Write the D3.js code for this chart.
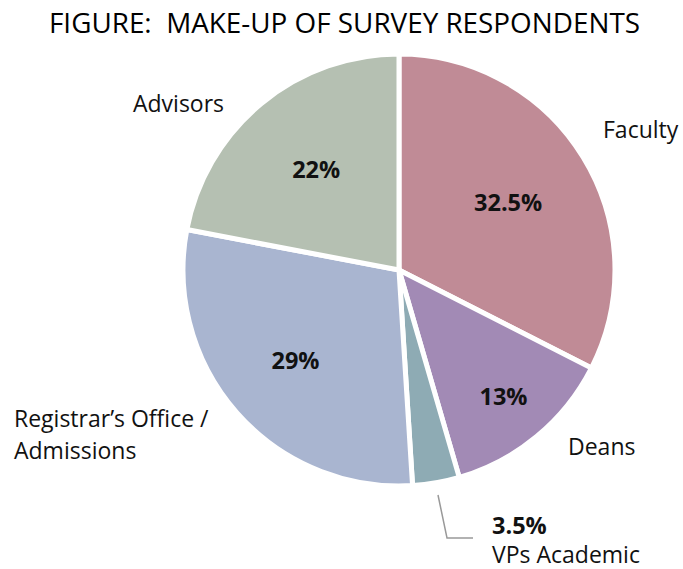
<!DOCTYPE html>
<html><head><meta charset="utf-8">
<script src="https://cdn.jsdelivr.net/npm/d3@7"></script>
<style>body{margin:0;background:#fff}svg{display:block}</style>
</head><body>
<script>
const categories = ["Faculty", "Deans", "VPs Academic", "Registrar’s Office / Admissions", "Advisors"];
const values = [32.5, 13, 3.5, 29, 22];
const valueLabels = ["32.5%", "13%", "3.5%", "29%", "22%"];
const colors = ["#c08b96", "#a28ab5", "#8eabb4", "#a9b5d0", "#b5c0b2"];
const title = "FIGURE:  MAKE-UP OF SURVEY RESPONDENTS";

const W = 683, H = 569;
const svg = d3.select("body").append("svg").attr("width", W).attr("height", H);

svg.append("text").attr("x", 49).attr("y", 33)
  .attr("font-family", "Open Sans").attr("font-size", 26.5).attr("fill", "#000")
  .attr("textLength", 591).attr("lengthAdjust", "spacingAndGlyphs")
  .style("white-space", "pre").text(title);

const cx = 399, cy = 270, R = 216;
const g = svg.append("g").attr("transform", `translate(${cx},${cy})`);
const pie = d3.pie().sort(null).value(d => d)(values);
const arc = d3.arc().innerRadius(0).outerRadius(R);

g.selectAll("path").data(pie).join("path")
  .attr("d", arc).attr("fill", (d, i) => colors[i])
  .attr("stroke", "#fff").attr("stroke-width", 5).attr("stroke-linejoin", "miter");

// inside percentage labels (layout radius per slice)
const labelRadius = [128, 164, null, 138, 130];
pie.forEach((d, i) => {
  if (labelRadius[i] == null) return;
  const a = (d.startAngle + d.endAngle) / 2;
  const r = labelRadius[i];
  g.append("text").attr("x", r * Math.sin(a)).attr("y", -r * Math.cos(a))
    .attr("text-anchor", "middle").attr("dy", "0.35em")
    .attr("font-family", "Open Sans").attr("font-weight", "bold").attr("font-size", 23.5)
    .attr("fill", "#111").text(valueLabels[i]);
});

const font = "Open Sans", fs = 23;
function lab(x, y, t, bold) {
  svg.append("text").attr("x", x).attr("y", y).attr("font-family", font)
    .attr("font-size", bold ? 23.5 : fs).attr("font-weight", bold ? "bold" : "normal")
    .attr("fill", "#111").text(t);
}
lab(603, 138, categories[0]);
lab(568, 455, categories[1]);
lab(133, 112, categories[4]);
const reg = categories[3].split(" / ");
lab(14, 427, reg[0] + " /");
lab(14, 459, reg[1]);
lab(492, 534, valueLabels[2], true);
lab(492, 563, categories[2]);

// leader line for VPs Academic
svg.append("path").attr("d", "M438,495 L447,538 L473,538")
  .attr("fill", "none").attr("stroke", "#999").attr("stroke-width", 1.5);
</script>
</body></html>
